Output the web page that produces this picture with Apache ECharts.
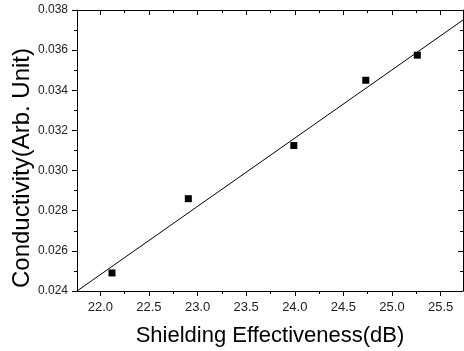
<!DOCTYPE html>
<html>
<head>
<meta charset="utf-8">
<script src="https://cdn.jsdelivr.net/npm/echarts@6/dist/echarts.min.js"></script>
<style>html,body{margin:0;padding:0;background:#fff}#c{width:464px;height:351px}</style>
</head>
<body>
<div id="c"></div>
<script>
// Data
var shieldingEffectiveness = [22.12, 22.905, 23.99, 24.73, 25.26];
var conductivity = [0.0249, 0.0286, 0.03125, 0.0345, 0.03575];
var fitX = [21.76, 25.73];
var fitY = [0.024, 0.0375];
var xMajorTicks = [22.0, 22.5, 23.0, 23.5, 24.0, 24.5, 25.0, 25.5];
var xMinorTicks = [22.25, 22.75, 23.25, 23.75, 24.25, 24.75, 25.25];
var xTitle = 'Shielding Effectiveness(dB)';
var yTitle = 'Conductivity(Arb. Unit)';

var FONT = '"Liberation Sans", Arial, sans-serif';
var XMIN = 21.76, XMAX = 25.73;
var lineStyle = {color: '#000', width: 1};

function xAxisDef(pos, ticks, len, inside, showLine, showLabel) {
  return {
    type: 'value', position: pos, min: XMIN, max: XMAX,
    axisLine: {show: showLine, lineStyle: lineStyle},
    axisTick: {show: true, customValues: ticks, length: len, inside: inside, lineStyle: lineStyle},
    axisLabel: {show: showLabel, customValues: ticks, margin: 10, color: '#222', fontSize: 13, fontFamily: FONT,
      formatter: function (v) { return v.toFixed(1); }},
    splitLine: {show: false}
  };
}
function yAxisDef(pos, inside, showLabel) {
  return {
    type: 'value', position: pos, min: 0.024, max: 0.038, interval: 0.002,
    axisLine: {show: true, lineStyle: lineStyle},
    axisTick: {show: true, length: 5, inside: inside, lineStyle: lineStyle},
    minorTick: {show: true, splitNumber: 2, length: 3, lineStyle: lineStyle},
    axisLabel: {show: showLabel, margin: 9, color: '#222', fontSize: 12, fontFamily: FONT,
      formatter: function (v) { return v.toFixed(3); }},
    splitLine: {show: false}
  };
}

var chart = echarts.init(document.getElementById('c'), null, {renderer: 'canvas'});
chart.setOption({
  animation: false,
  backgroundColor: '#fff',
  grid: {left: 77, right: 1, top: 10, bottom: 60, containLabel: false},
  xAxis: [
    xAxisDef('bottom', xMajorTicks, 5, false, true, true),
    xAxisDef('bottom', xMinorTicks, 3, false, false, false),
    xAxisDef('top', xMajorTicks, 5, true, true, false),
    xAxisDef('top', xMinorTicks, 3, true, false, false)
  ],
  yAxis: [
    yAxisDef('left', false, true),
    yAxisDef('right', true, false)
  ],
  series: [
    {
      type: 'line', xAxisIndex: 0, yAxisIndex: 0,
      data: fitX.map(function (x, i) { return [x, fitY[i]]; }),
      showSymbol: false, symbol: 'none', clip: true,
      lineStyle: {color: '#000', width: 1}
    },
    {
      type: 'scatter', xAxisIndex: 0, yAxisIndex: 0,
      data: shieldingEffectiveness.map(function (x, i) { return [x, conductivity[i]]; }),
      symbol: 'rect', symbolSize: 7,
      itemStyle: {color: '#000', opacity: 1}
    }
  ],
  graphic: [
    {type: 'text', x: 270, y: 336,
      style: {text: xTitle, font: '22px ' + FONT, fill: '#000', textAlign: 'center', textVerticalAlign: 'middle'}},
    {type: 'text', x: 22, y: 168, rotation: Math.PI / 2,
      style: {text: yTitle, font: '24px ' + FONT, fill: '#000', textAlign: 'center', textVerticalAlign: 'middle'}}
  ]
});
</script>
</body>
</html>
